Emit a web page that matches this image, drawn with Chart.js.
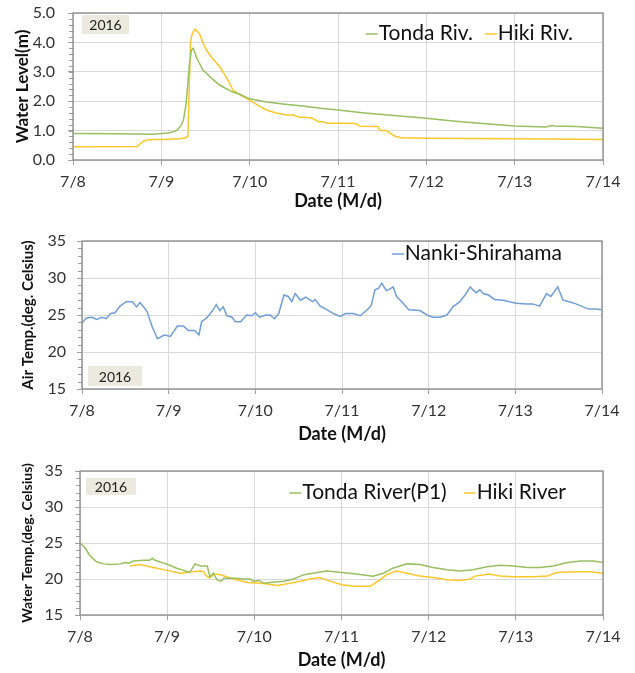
<!DOCTYPE html>
<html>
<head>
<meta charset="utf-8">
<script src="https://cdn.jsdelivr.net/npm/chart.js@4.4.1/dist/chart.umd.min.js"></script>
<style>
  html,body{margin:0;padding:0;background:#fff;}
  body{width:635px;height:673px;position:relative;overflow:hidden;}
  .box{position:absolute;left:0;width:635px;}
</style>
</head>
<body>
<div class="box" style="top:0;height:212px"><canvas id="c1"></canvas></div>
<div class="box" style="top:225px;height:220px"><canvas id="c2"></canvas></div>
<div class="box" style="top:455px;height:218px"><canvas id="c3"></canvas></div>
<script>
const FONT = 'Lato, "Open Sans", sans-serif'
const GREEN = '#98bf60', YELLOW = '#ffc72a', BLUE = '#709fd8'
const dayLabels = ['7/8','7/9','7/10','7/11','7/12','7/13','7/14']

// water level (m), x = days since 7/8 0:00
const tondaLevelT = [0,0.5,0.9,1.0,1.1,1.17,1.22,1.25,1.28,1.3,1.32,1.34,1.36,1.38,1.40,1.43,1.47,1.51,1.55,1.6,1.66,1.72,1.81,1.9,2.0,2.19,2.4,2.6,2.8,3.0,3.3,3.6,4.0,4.3,4.6,5.0,5.35,5.42,5.45,5.7,6.0]
const tondaLevel  = [0.9,0.89,0.88,0.9,0.93,1.0,1.15,1.36,1.9,2.6,3.3,3.74,3.8,3.65,3.47,3.3,3.06,2.95,2.83,2.7,2.55,2.45,2.31,2.22,2.08,1.97,1.9,1.84,1.76,1.7,1.6,1.52,1.42,1.33,1.25,1.16,1.12,1.17,1.16,1.14,1.08]
const hikiLevelT = [0,0.72,0.76,0.8,0.85,0.9,1.0,1.1,1.2,1.27,1.3,1.33,1.35,1.38,1.40,1.43,1.47,1.51,1.58,1.66,1.74,1.81,1.9,2.0,2.1,2.19,2.3,2.42,2.5,2.56,2.62,2.7,2.78,2.83,2.88,3.0,3.2,3.25,3.45,3.48,3.55,3.6,3.65,3.72,3.85,4.0,5.0,6.0]
const hikiLevel  = [0.45,0.46,0.55,0.65,0.68,0.7,0.7,0.71,0.72,0.75,0.8,4.0,4.3,4.45,4.4,4.3,4.0,3.74,3.45,3.17,2.8,2.38,2.2,2.04,1.85,1.7,1.6,1.53,1.53,1.45,1.45,1.43,1.3,1.3,1.25,1.25,1.24,1.15,1.14,1.0,1.0,0.9,0.8,0.76,0.75,0.74,0.72,0.7]

// air temperature (deg C)
const airT = [0,0.05,0.12,0.17,0.23,0.28,0.33,0.38,0.44,0.51,0.58,0.63,0.67,0.75,0.81,0.87,0.95,1.02,1.10,1.17,1.23,1.30,1.35,1.38,1.44,1.50,1.55,1.59,1.63,1.67,1.73,1.77,1.83,1.90,1.96,2.00,2.05,2.12,2.17,2.22,2.27,2.33,2.38,2.42,2.46,2.52,2.58,2.66,2.69,2.75,2.83,2.90,2.98,3.04,3.13,3.21,3.31,3.34,3.38,3.42,3.46,3.51,3.55,3.59,3.63,3.69,3.77,3.90,3.98,4.05,4.13,4.21,4.28,4.36,4.42,4.48,4.51,4.55,4.59,4.63,4.69,4.76,4.86,4.93,5.01,5.13,5.20,5.28,5.36,5.41,5.49,5.55,5.62,5.70,5.78,5.85,5.93,5.99]
const airTemp = [23.9,24.6,24.7,24.4,24.7,24.5,25.2,25.3,26.2,26.8,26.8,26.1,26.7,25.5,23.4,21.8,22.3,22.1,23.5,23.5,22.9,22.9,22.3,24.1,24.6,25.5,26.4,25.6,26.1,24.9,24.7,24.1,24.1,25.0,24.9,25.3,24.7,25.0,25.0,24.5,25.2,27.7,27.5,26.8,27.9,27.0,27.4,26.8,27.1,26.2,25.7,25.2,24.8,25.2,25.2,24.9,25.9,26.4,28.4,28.6,29.3,28.3,28.5,28.8,27.5,26.8,25.7,25.6,25.0,24.7,24.7,25.0,26.1,26.8,27.7,28.8,28.4,28.0,28.4,27.9,27.7,27.1,27.0,26.8,26.6,26.5,26.5,26.2,27.9,27.5,28.8,27.0,26.8,26.5,26.1,25.8,25.8,25.7]

// water temperature (deg C)
const tondaTempT = [0,0.06,0.11,0.19,0.27,0.36,0.46,0.52,0.56,0.61,0.73,0.80,0.83,0.86,0.96,1.03,1.11,1.19,1.25,1.28,1.32,1.38,1.46,1.49,1.53,1.57,1.62,1.65,1.76,1.80,1.88,1.95,1.99,2.05,2.11,2.18,2.34,2.45,2.57,2.67,2.83,3.0,3.17,3.36,3.48,3.59,3.75,3.90,4.05,4.21,4.36,4.51,4.67,4.82,4.97,5.13,5.28,5.43,5.59,5.74,5.89,6.0]
const tondaTemp  = [25.0,24.3,23.3,22.4,22.1,22.0,22.1,22.3,22.2,22.5,22.6,22.6,22.9,22.6,22.2,21.9,21.5,21.2,20.9,21.3,22.1,21.8,21.8,20.3,20.8,19.9,19.7,20.1,20.1,20.1,20.0,20.0,19.7,19.8,19.4,19.5,19.7,20.0,20.6,20.8,21.1,20.9,20.7,20.4,20.8,21.5,22.1,22.0,21.6,21.3,21.1,21.3,21.7,21.9,21.8,21.6,21.6,21.8,22.3,22.5,22.5,22.3]
const hikiTempT = [0.57,0.69,0.84,1.0,1.15,1.30,1.38,1.42,1.46,1.49,1.55,1.61,1.76,1.92,2.07,2.15,2.26,2.41,2.53,2.64,2.75,2.87,3.0,3.15,3.33,3.42,3.52,3.63,3.75,3.90,4.05,4.21,4.36,4.48,4.53,4.70,4.82,4.97,5.20,5.36,5.47,5.70,5.85,6.0]
const hikiTemp  = [21.8,22.0,21.6,21.2,20.8,21.0,21.1,21.0,20.3,20.2,20.7,20.6,20.0,19.5,19.4,19.3,19.1,19.4,19.7,20.0,20.2,19.7,19.2,19.0,19.0,19.7,20.6,21.1,20.8,20.4,20.2,19.9,19.8,20.0,20.4,20.7,20.4,20.3,20.3,20.4,20.9,21.0,21.0,20.8]

const pts = (t, v) => t.map((x, i) => ({x, y: v[i]}))

// plot frame, minor ticks, year tag and in-plot legend
const decor = {
  id: 'decor',
  beforeDatasetsDraw(chart) {
    const o = chart.options.plugins.decor, a = chart.chartArea, ctx = chart.ctx
    const y = chart.scales.y
    ctx.save()
    ctx.strokeStyle = '#a0a0a0'; ctx.lineWidth = 1
    for (let v = y.min; v <= y.max + 1e-9; v += o.minor) {
      const py = Math.round(y.getPixelForValue(v)) + 0.5
      ctx.beginPath(); ctx.moveTo(a.left - 4, py); ctx.lineTo(a.left, py); ctx.stroke()
    }
    // year tag
    const tx = a.left + o.tag.dx, ty = o.tag.dy >= 0 ? a.top + o.tag.dy : a.bottom + o.tag.dy
    ctx.fillStyle = '#eceadf'
    ctx.fillRect(tx, ty, o.tag.w, o.tag.h)
    ctx.fillStyle = '#222'; ctx.font = '14px ' + FONT
    ctx.textAlign = 'center'; ctx.textBaseline = 'middle'
    ctx.fillText('2016', tx + o.tag.w / 2, ty + o.tag.h / 2 + 1)
    ctx.restore()
  },
  afterDatasetsDraw(chart) {
    const o = chart.options.plugins.decor, a = chart.chartArea, ctx = chart.ctx
    ctx.save()
    ctx.strokeStyle = '#888'; ctx.lineWidth = 1.3
    ctx.strokeRect(a.left, a.top, a.right - a.left, a.bottom - a.top)
    // legend, right aligned
    ctx.font = o.legendSize + 'px ' + FONT
    ctx.textBaseline = 'middle'; ctx.textAlign = 'left'
    const ds = chart.data.datasets
    let x = a.right - o.legendRight
    const ly = a.top + o.legendY
    for (let i = ds.length - 1; i >= 0; i--) {
      const w = ctx.measureText(ds[i].label).width
      x -= w
      ctx.fillStyle = '#111'
      ctx.fillText(ds[i].label, x, ly)
      ctx.strokeStyle = ds[i].borderColor; ctx.lineWidth = 1.5
      ctx.beginPath(); ctx.moveTo(x - 13, ly + 1); ctx.lineTo(x - 1, ly + 1); ctx.stroke()
      x -= 13 + o.legendGap
    }
    ctx.restore()
  }
}

function makeChart(id, cfg) {
  const line = (label, data, color) => ({
    label, data, borderColor: color, backgroundColor: color,
    borderWidth: 1.5, pointRadius: 0, tension: 0, fill: false
  })
  return new Chart(document.getElementById(id), {
    type: 'line',
    data: { datasets: cfg.series.map(s => line(s[0], s[1], s[2])) },
    plugins: [decor],
    options: {
      responsive: true, maintainAspectRatio: false, animation: false,
      layout: { padding: { top: cfg.padTop, right: cfg.padRight, left: 0, bottom: 0 } },
      plugins: {
        legend: { display: false }, tooltip: { enabled: false },
        decor: cfg.decor
      },
      scales: {
        x: {
          type: 'linear', min: 0, max: 6,
          afterFit: s => { s.height = cfg.xHeight; s.paddingLeft = 0; s.paddingRight = 0 },
          grid: { color: '#d9d9d9', tickLength: 5, tickColor: '#a0a0a0' },
          border: { display: false },
          ticks: { stepSize: 1, padding: 7, color: '#333', font: { family: FONT, size: 16 },
            maxRotation: 0, callback: v => dayLabels[v] },
          title: { display: true, text: 'Date (M/d)', color: '#111', padding: { top: 0, bottom: cfg.xTitlePad },
            font: { family: FONT, size: 18, weight: 'bold' } }
        },
        y: {
          min: cfg.yMin, max: cfg.yMax,
          afterFit: s => { s.width = cfg.yWidth; s.paddingTop = 0; s.paddingBottom = 0 },
          grid: { color: '#d9d9d9', tickLength: 5, tickColor: '#a0a0a0' },
          border: { display: false },
          ticks: { stepSize: cfg.yStep, padding: cfg.yTickPad, color: '#333', font: { family: FONT, size: 16 },
            callback: cfg.yFmt },
          title: { display: true, text: cfg.yTitle, color: '#111', padding: { top: cfg.yTitlePad, bottom: 0 },
            font: { family: FONT, size: cfg.yTitleSize, weight: 'bold' } }
        }
      }
    }
  })
}

makeChart('c1', {
  series: [['Tonda Riv.', pts(tondaLevelT, tondaLevel), GREEN], ['Hiki Riv.', pts(hikiLevelT, hikiLevel), YELLOW]],
  padTop: 13, padRight: 32, xHeight: 52, yWidth: 73, xTitlePad: 0,
  yMin: 0, yMax: 5, yStep: 1, yFmt: v => v.toFixed(1), yTickPad: 13,
  yTitle: 'Water Level(m)', yTitleSize: 17, yTitlePad: 12,
  decor: { minor: 0.2, tag: { dx: 9, dy: 2, w: 47, h: 19 }, legendSize: 21, legendRight: 30, legendY: 20, legendGap: 12 }
})

makeChart('c2', {
  series: [['Nanki-Shirahama', pts(airT, airTemp), BLUE]],
  padTop: 16, padRight: 33, xHeight: 56, yWidth: 82, xTitlePad: 0,
  yMin: 15, yMax: 35, yStep: 5, yFmt: v => v, yTickPad: 11,
  yTitle: 'Air Temp.(deg. Celsius)', yTitleSize: 15, yTitlePad: 19,
  decor: { minor: 1, tag: { dx: 6, dy: -23, w: 54, h: 20 }, legendSize: 21, legendRight: 40, legendY: 12, legendGap: 12 }
})

makeChart('c3', {
  series: [['Tonda River(P1)', pts(tondaTempT, tondaTemp), GREEN], ['Hiki River', pts(hikiTempT, hikiTemp), YELLOW]],
  padTop: 16, padRight: 32, xHeight: 58, yWidth: 80, xTitlePad: 2,
  yMin: 15, yMax: 35, yStep: 5, yFmt: v => v, yTickPad: 12,
  yTitle: 'Water Temp.(deg. Celsius)', yTitleSize: 14, yTitlePad: 19,
  decor: { minor: 1, tag: { dx: 6, dy: 7, w: 50, h: 17 }, legendSize: 21, legendRight: 37, legendY: 21, legendGap: 17 }
})
</script>
</body>
</html>
